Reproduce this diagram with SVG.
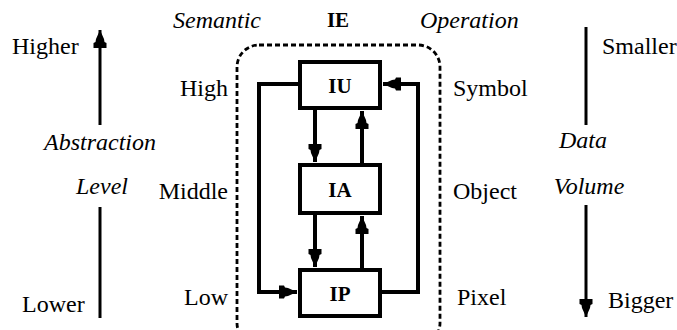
<svg xmlns="http://www.w3.org/2000/svg" width="677" height="330" viewBox="0 0 677 330">
<style>
text{font-size:24px;fill:#000}
.i{font-style:italic}
.b{font-weight:bold;font-size:21px}
.box{fill:#fff;stroke:#000;stroke-width:4}
.c{fill:none;stroke:#000;stroke-width:4}
.ax{fill:none;stroke:#000;stroke-width:3}
</style>
<defs>
<marker id="ah" markerUnits="userSpaceOnUse" viewBox="-19 -8 20 16" refX="0" refY="0" markerWidth="20" markerHeight="16" orient="auto">
<path d="M0,0 L-9,-4 L-12,-4.5 L-13,-6.5 L-18,-6.5 L-18,6.5 L-13,6.5 L-12,4.5 L-9,4 Z" fill="#000"/>
</marker>
</defs>
<g font-family="Liberation Serif, Times New Roman, serif">
<rect id="ie-frame" x="237" y="45" width="203" height="300" rx="22" fill="none" stroke="#000" stroke-width="2.8" stroke-dasharray="5,3"/>
<g id="connectors">
<line class="c" x1="315" y1="110" x2="315" y2="162" marker-end="url(#ah)"/>
<line class="c" x1="362" y1="163" x2="362" y2="111" marker-end="url(#ah)"/>
<line class="c" x1="315" y1="215" x2="315" y2="267" marker-end="url(#ah)"/>
<line class="c" x1="362" y1="268" x2="362" y2="216" marker-end="url(#ah)"/>
<polyline class="c" points="298,84 259,84 259,292 297,292" marker-end="url(#ah)"/>
<polyline class="c" points="382,292 418,292 418,84 383,84" marker-end="url(#ah)"/>
</g>
<g id="IU"><rect class="box" x="300" y="62" width="80" height="46"/><text class="b" x="340" y="93" text-anchor="middle">IU</text></g>
<g id="IA"><rect class="box" x="300" y="165" width="80" height="48"/><text class="b" x="340" y="197" text-anchor="middle">IA</text></g>
<g id="IP"><rect class="box" x="300" y="270" width="80" height="46"/><text class="b" x="340" y="301" text-anchor="middle">IP</text></g>
<g id="left-axis">
<line class="ax" x1="100" y1="125" x2="100" y2="30" marker-end="url(#ah)"/>
<line class="ax" x1="100" y1="207" x2="100" y2="318"/>
<text x="12" y="54">Higher</text>
<text class="i" x="100" y="150" text-anchor="middle">Abstraction</text>
<text class="i" x="102" y="194" text-anchor="middle">Level</text>
<text x="22" y="312">Lower</text>
</g>
<g id="right-axis">
<line class="ax" x1="586" y1="27" x2="586" y2="125"/>
<line class="ax" x1="586" y1="205" x2="586" y2="317" marker-end="url(#ah)"/>
<text x="602" y="54">Smaller</text>
<text class="i" x="583" y="148" text-anchor="middle">Data</text>
<text class="i" x="589" y="194" text-anchor="middle">Volume</text>
<text x="608" y="308">Bigger</text>
</g>
<g id="labels">
<text class="i" x="173" y="28">Semantic</text>
<text class="b" x="338" y="27" text-anchor="middle">IE</text>
<text class="i" x="420" y="28">Operation</text>
<text x="228" y="96" text-anchor="end">High</text>
<text x="228" y="199" text-anchor="end">Middle</text>
<text x="228" y="305" text-anchor="end">Low</text>
<text x="453" y="96">Symbol</text>
<text x="453" y="199">Object</text>
<text x="457" y="305">Pixel</text>
</g>
</g>
</svg>
